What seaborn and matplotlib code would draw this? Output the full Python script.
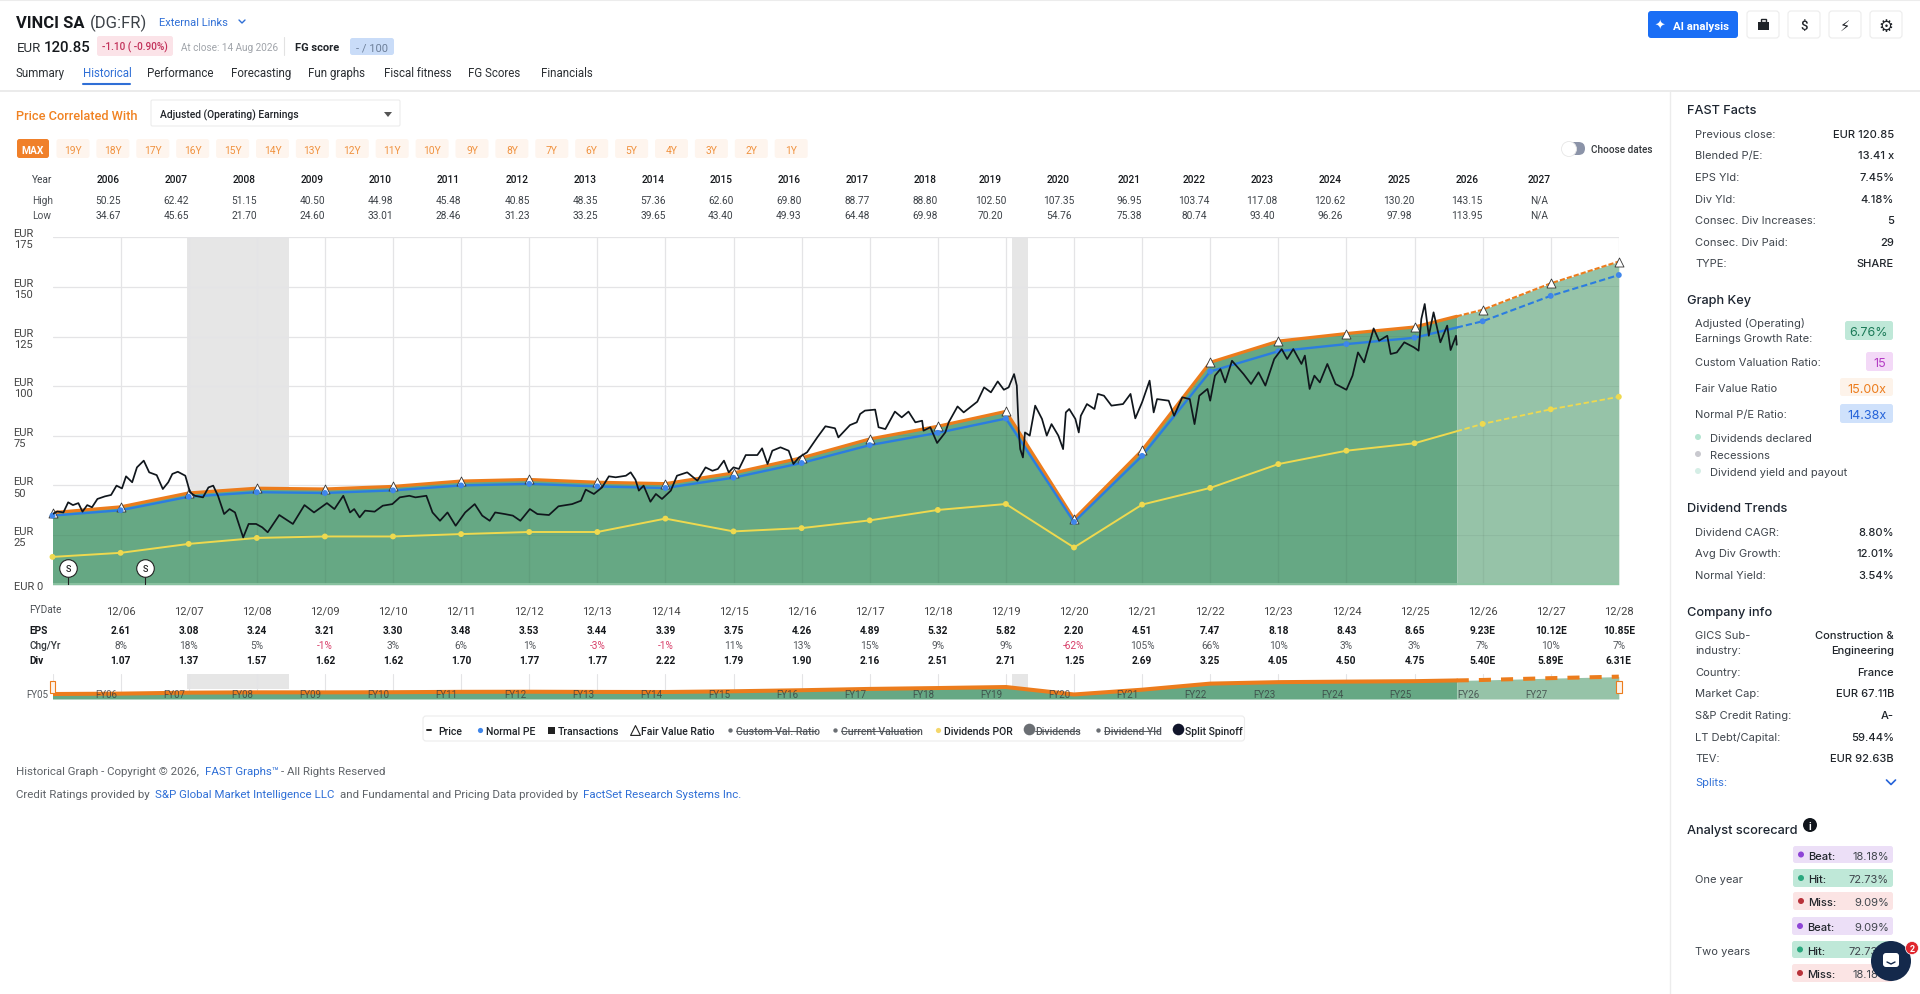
import numpy as np
import matplotlib
matplotlib.use("Agg")
import matplotlib.pyplot as plt
import seaborn as sns
from matplotlib.patches import FancyBboxPatch, Rectangle, Circle
from matplotlib.transforms import blended_transform_factory

W, H = 1920, 995

# fiscal year ends, x = 2005 means 12/05
fy = list(range(2005, 2029))
fair_value = [36.3, 39.2, 46.2, 48.6, 48.2, 49.5, 52.2, 53.0, 51.6, 50.9, 56.3, 63.9,
              73.4, 79.8, 87.3, 33.0, 67.7, 112.0, 122.7, 126.5, 129.8, 138.5, 151.8, 162.8]
normal_pe = [34.8, 37.5, 44.3, 46.6, 46.2, 47.5, 50.0, 50.8, 49.5, 48.7, 53.9, 61.3,
             70.3, 76.5, 83.7, 31.6, 64.9, 107.4, 117.6, 121.2, 124.4, 132.7, 145.5, 156.0]
div_por = [14.0, 16.05, 20.55, 23.55, 24.3, 24.3, 25.5, 26.55, 26.55, 33.3, 26.85, 28.5,
           32.4, 37.65, 40.65, 18.75, 40.35, 48.75, 60.75, 67.5, 71.25, 81.0, 88.35, 94.65]
last_close_x = 2025.62

price_year = [2005.00, 2005.07, 2005.16, 2005.23, 2005.30, 2005.38, 2005.44, 2005.51, 2005.58, 2005.66,
              2005.77, 2005.86, 2005.94, 2006.02, 2006.08, 2006.17, 2006.24, 2006.34, 2006.42, 2006.53,
              2006.62, 2006.70, 2006.76, 2006.84, 2006.95, 2007.02, 2007.09, 2007.21, 2007.29, 2007.36,
              2007.43, 2007.52, 2007.60, 2007.68, 2007.76, 2007.80, 2007.88, 2007.99, 2008.08, 2008.16,
              2008.33, 2008.53, 2008.70, 2008.84, 2009.03, 2009.14, 2009.27, 2009.37, 2009.43, 2009.51,
              2009.59, 2009.73, 2009.85, 2009.99, 2010.10, 2010.24, 2010.33, 2010.49, 2010.58, 2010.69,
              2010.80, 2010.92, 2011.06, 2011.20, 2011.31, 2011.42, 2011.50, 2011.64, 2011.76, 2011.87,
              2012.01, 2012.12, 2012.29, 2012.43, 2012.63, 2012.76, 2012.83, 2012.95, 2013.07, 2013.17,
              2013.27, 2013.42, 2013.49, 2013.56, 2013.61, 2013.68, 2013.78, 2013.86, 2013.95, 2014.08,
              2014.17, 2014.32, 2014.47, 2014.59, 2014.69, 2014.77, 2014.86, 2014.93, 2015.00, 2015.08,
              2015.18, 2015.35, 2015.42, 2015.50, 2015.57, 2015.69, 2015.81, 2015.88, 2015.96, 2016.08,
              2016.23, 2016.35, 2016.49, 2016.54, 2016.71, 2016.81, 2016.86, 2016.93, 2017.08, 2017.13,
              2017.23, 2017.37, 2017.47, 2017.57, 2017.67, 2017.77, 2017.79, 2017.89, 2017.99, 2018.11,
              2018.16, 2018.29, 2018.38, 2018.58, 2018.68, 2018.78, 2018.88, 2018.97, 2019.04, 2019.12,
              2019.16, 2019.19, 2019.21, 2019.25, 2019.28, 2019.35, 2019.43, 2019.53, 2019.60, 2019.67,
              2019.77, 2019.84, 2019.88, 2019.93, 2020.02, 2020.07, 2020.10, 2020.19, 2020.30, 2020.35,
              2020.44, 2020.55, 2020.72, 2020.83, 2020.90, 2021.00, 2021.11, 2021.17, 2021.22, 2021.39,
              2021.47, 2021.59, 2021.70, 2021.77, 2021.84, 2021.96, 2022.00, 2022.07, 2022.15, 2022.22,
              2022.32, 2022.49, 2022.60, 2022.71, 2022.81, 2022.94, 2023.05, 2023.13, 2023.22, 2023.34,
              2023.39, 2023.46, 2023.53, 2023.61, 2023.72, 2023.84, 2024.00, 2024.09, 2024.17, 2024.26,
              2024.40, 2024.48, 2024.60, 2024.65, 2024.74, 2024.85, 2024.99, 2025.06, 2025.10, 2025.15,
              2025.21, 2025.28, 2025.38, 2025.48, 2025.53, 2025.61, 2025.62]
price_value = [35.6, 36.9, 36.4, 41.5, 40.1, 41.1, 36.8, 40.1, 39.0, 43.2,
               44.5, 45.2, 49.9, 48.5, 54.6, 51.6, 59.1, 62.5, 56.6, 55.2,
               48.2, 51.6, 55.8, 56.9, 54.9, 46.5, 44.8, 44.0, 49.0, 49.9,
               44.8, 35.6, 38.1, 36.4, 28.0, 23.8, 30.6, 30.6, 28.9, 26.4,
               35.1, 30.6, 40.1, 36.4, 41.1, 38.1, 44.8, 36.4, 38.1, 33.9,
               37.3, 36.8, 39.8, 40.6, 44.0, 44.8, 44.0, 44.8, 36.4, 32.2,
               36.4, 29.7, 36.4, 40.6, 34.8, 32.2, 36.4, 35.6, 34.8, 32.2,
               38.1, 35.6, 35.1, 39.5, 40.6, 42.3, 47.9, 45.7, 49.0, 54.6,
               54.1, 54.9, 56.6, 52.9, 47.4, 49.9, 41.8, 45.7, 43.2, 47.4,
               54.9, 56.6, 52.4, 59.1, 57.4, 58.3, 62.5, 56.6, 59.1, 58.3,
               65.3, 65.3, 68.7, 60.8, 67.5, 69.2, 67.5, 60.8, 64.1, 66.7,
               74.2, 79.8, 78.8, 74.2, 80.4, 81.8, 86.0, 87.7, 88.2, 79.3,
               78.4, 87.2, 84.3, 87.2, 81.8, 82.6, 77.6, 79.3, 71.4, 76.7,
               81.8, 89.8, 86.8, 92.2, 99.4, 96.9, 102.4, 98.2, 99.4, 106.1,
               100.3, 76.7, 68.3, 64.1, 76.7, 75.1, 90.2, 83.5, 75.1, 80.9,
               75.1, 68.3, 86.8, 88.5, 83.5, 76.7, 85.1, 91.0, 88.5, 96.1,
               95.2, 90.2, 91.0, 96.1, 83.8, 91.9, 102.8, 86.8, 93.5, 92.7,
               85.1, 94.4, 93.5, 80.9, 95.2, 98.6, 92.7, 105.3, 108.6, 101.9,
               112.8, 106.1, 101.1, 107.0, 100.3, 113.7, 118.7, 113.7, 118.7, 111.2,
               115.4, 98.6, 105.3, 101.9, 111.2, 101.1, 98.2, 105.3, 117.0, 112.0,
               129.1, 122.9, 125.4, 116.2, 117.0, 122.1, 119.6, 117.9, 133.8, 141.4,
               125.4, 137.2, 122.1, 130.5, 118.2, 125.4, 120.85]

recessions = [(2006.98, 2008.48), (2019.09, 2019.32)]
split_year = [2005.23, 2006.36]
split_level = [8.4, 8.4]

# table above the chart
table_years = ["2006", "2007", "2008", "2009", "2010", "2011", "2012", "2013", "2014", "2015", "2016",
               "2017", "2018", "2019", "2020", "2021", "2022", "2023", "2024", "2025", "2026", "2027"]
table_x = [108, 176, 244.5, 312, 380, 448, 517, 585, 653, 721, 789, 857, 925, 990.6, 1058.6, 1129,
           1194, 1262, 1330, 1399, 1467, 1539]
table_high = ["50.25", "62.42", "51.15", "40.50", "44.98", "45.48", "40.85", "48.35", "57.36", "62.60", "69.80",
              "88.77", "88.80", "102.50", "107.35", "96.95", "103.74", "117.08", "120.62", "130.20", "143.15", "N/A"]
table_low = ["34.67", "45.65", "21.70", "24.60", "33.01", "28.46", "31.23", "33.25", "39.65", "43.40", "49.93",
             "64.48", "69.98", "70.20", "54.76", "75.38", "80.74", "93.40", "96.26", "97.98", "113.95", "N/A"]

# table below the chart
eps = ["2.61", "3.08", "3.24", "3.21", "3.30", "3.48", "3.53", "3.44", "3.39", "3.75", "4.26", "4.89",
       "5.32", "5.82", "2.20", "4.51", "7.47", "8.18", "8.43", "8.65", "9.23E", "10.12E", "10.85E"]
chg = ["8%", "18%", "5%", "-1%", "3%", "6%", "1%", "-3%", "-1%", "11%", "13%", "15%",
       "9%", "9%", "-62%", "105%", "66%", "10%", "3%", "3%", "7%", "10%", "7%"]
div = ["1.07", "1.37", "1.57", "1.62", "1.62", "1.70", "1.77", "1.77", "2.22", "1.79", "1.90", "2.16",
       "2.51", "2.71", "1.25", "2.69", "3.25", "4.05", "4.50", "4.75", "5.40E", "5.89E", "6.31E"]

pills = ["19Y", "18Y", "17Y", "16Y", "15Y", "14Y", "13Y", "12Y", "11Y", "10Y",
         "9Y", "8Y", "7Y", "6Y", "5Y", "4Y", "3Y", "2Y", "1Y"]
tabs = [("Summary", 16), ("Historical", 83), ("Performance", 147), ("Forecasting", 231),
        ("Fun graphs", 308), ("Fiscal fitness", 384), ("FG Scores", 468), ("Financials", 541)]

fast_facts = [("Previous close:", "EUR 120.85"), ("Blended P/E:", "13.41 x"), ("EPS Yld:", "7.45%"),
              ("Div Yld:", "4.18%"), ("Consec. Div Increases:", "5"), ("Consec. Div Paid:", "29"),
              ("TYPE:", "SHARE")]
div_trends = [("Dividend CAGR:", "8.80%"), ("Avg Div Growth:", "12.01%"), ("Normal Yield:", "3.54%")]
company = [("Country:", "France"), ("Market Cap:", "EUR 67.11B"), ("S&P Credit Rating:", "A-"),
           ("LT Debt/Capital:", "59.44%"), ("TEV:", "EUR 92.63B")]

C_ORANGE = "#ec7c1c"
C_BLUE = "#2b7de0"
C_YELLOW = "#eed94f"
C_FILL = "#66a884"
C_FILL_FCST = "#96c3a8"
C_DARK = "#1f2328"
C_GREY = "#5f6368"
C_LINK = "#2f6fd6"
C_RED = "#d8406a"
C_GRID = "#e4e4e6"

sns.set_theme(style="whitegrid")
plt.rcParams["font.family"] = ["Roboto", "DejaVu Sans"]

fig = plt.figure(figsize=(W / 100, H / 100), dpi=100, facecolor="white")


def px_axes(left, top, right, bottom, **kw):
    return fig.add_axes([left / W, 1 - bottom / H, (right - left) / W, (bottom - top) / H], **kw)


X0, X1, Y_TOP, Y_BOT = 52.5, 1618.8, 238.3, 585.7

# page layer in pixel coordinates
ui = px_axes(0, 0, W, H)
ui.set_xlim(0, W)
ui.set_ylim(H, 0)
ui.axis("off")
ui.set_zorder(0)

ax = px_axes(X0, Y_TOP, X1, Y_BOT)
ax.set_zorder(2)
ax.patch.set_alpha(0)

nav = px_axes(X0, 675, X1, 700)
nav.set_zorder(2)
nav.patch.set_alpha(0)

over = px_axes(0, 0, W, H)
over.set_xlim(0, W)
over.set_ylim(H, 0)
over.axis("off")
over.patch.set_alpha(0)
over.set_zorder(5)

# split history / forecast at the last close
x_hist = [y for y in fy if y <= last_close_x] + [last_close_x]
x_fcst = [last_close_x] + [y for y in fy if y > last_close_x]


def part(values, xs):
    return np.interp(xs, fy, values)


def draw_line(axes, xs, ys, color, lw, **kw):
    sns.lineplot(x=xs, y=ys, ax=axes, color=color, linewidth=lw, sort=False,
                 estimator=None, errorbar=None, legend=False, **kw)


# main chart
ax.set_xlim(2005, 2028)
ax.set_ylim(0, 175)
for a, b in recessions:
    ax.axvspan(a, b, color="#e6e6e6", lw=0, zorder=0.5)
ax.fill_between(x_hist, 0, part(fair_value, x_hist), color=C_FILL, lw=0, zorder=1)
ax.fill_between(x_fcst, 0, part(fair_value, x_fcst), color=C_FILL_FCST, lw=0, zorder=1)
# faint grid showing through the green area
ax.vlines(fy[1:-1], 0, part(fair_value, fy[1:-1]), color="black", alpha=0.05, lw=0.9, zorder=1.5)
for level in [25, 50, 75, 100, 125, 150]:
    xs_in = np.linspace(2005, 2028, 920)
    under = part(fair_value, xs_in) >= level
    ax.fill_between(xs_in, level - 0.25, level + 0.25, where=under, color="black", alpha=0.05, lw=0, zorder=1.5)
ax.plot([2005, 2028], [0.3, 0.3], color="#8fc7a5", lw=1.2, zorder=1.6)

draw_line(ax, x_hist, part(fair_value, x_hist), C_ORANGE, 2.3, zorder=3)
draw_line(ax, x_fcst, part(fair_value, x_fcst), C_ORANGE, 1.5, linestyle=(0, (2.5, 1)), zorder=3)
draw_line(ax, x_hist, part(normal_pe, x_hist), C_BLUE, 1.7, zorder=3.2)
draw_line(ax, x_fcst, part(normal_pe, x_fcst), C_BLUE, 1.5, linestyle=(0, (3, 1.5)), zorder=3.2)
draw_line(ax, x_hist, part(div_por, x_hist), C_YELLOW, 1.4, zorder=3)
draw_line(ax, x_fcst, part(div_por, x_fcst), C_YELLOW, 1.3, linestyle=(0, (3, 1.5)), zorder=3)

sns.scatterplot(x=fy, y=div_por, ax=ax, color=C_YELLOW, s=18, edgecolor="none", zorder=3.5, clip_on=False, legend=False)
sns.scatterplot(x=fy, y=fair_value, ax=ax, color="white", marker="^", s=42, edgecolor="#333333", linewidth=0.6,
                zorder=3.5, clip_on=False, legend=False)
sns.scatterplot(x=fy, y=normal_pe, ax=ax, color="#3f86ea", s=18, edgecolor="none", zorder=3.6, clip_on=False, legend=False)

draw_line(ax, price_year, price_value, "#10161c", 1.25, zorder=4)

ax.vlines(split_year, 0, split_level, color="#222222", lw=0.8, zorder=4.4)
sns.scatterplot(x=split_year, y=split_level, ax=ax, color="white", s=160, edgecolor="#222222", linewidth=0.8,
                zorder=4.5, clip_on=False, legend=False)
for sx, sy in zip(split_year, split_level):
    ax.text(sx, sy, "S", ha="center", va="center", fontsize=6.5, color="#222222", zorder=4.6, fontweight="medium")

ax.set_xticks(fy[1:])
ax.set_xticklabels([f"12/{str(y)[2:]}" for y in fy[1:]], fontsize=8, color="#444444")
ax.set_yticks([0, 25, 50, 75, 100, 125, 150, 175])
ax.set_yticklabels(["EUR 0", "EUR\n25", "EUR\n50", "EUR\n75", "EUR\n100", "EUR\n125", "EUR\n150", "EUR\n175"],
                   fontsize=8, color="#444444", ha="left", linespacing=1.15)
ax.tick_params(axis="x", length=3, width=0.8, color=C_GRID, pad=12)
ax.tick_params(axis="y", length=0, pad=28)
ax.grid(True, color=C_GRID, linewidth=0.9)
ax.set_axisbelow(True)
ax.set_xlabel("")
ax.set_ylabel("")
sns.despine(ax=ax, left=True, bottom=True)

# navigator under the table
nav.set_xlim(2005, 2028)
nav.set_ylim(0, 182)
for a, b in recessions:
    nav.axvspan(a, b, ymin=0.4, color="#e6e6e6", lw=0, zorder=0.5)
nav.fill_between(x_hist, 0, part(fair_value, x_hist), color=C_FILL, lw=0, zorder=1)
nav.fill_between(x_fcst, 0, part(fair_value, x_fcst), color=C_FILL_FCST, lw=0, zorder=1)
draw_line(nav, x_hist, part(fair_value, x_hist), C_ORANGE, 2.9, zorder=3)
draw_line(nav, x_fcst, part(fair_value, x_fcst), C_ORANGE, 2.9, linestyle=(0, (3, 2.5)), zorder=3)
nav.set_xticks(fy)
nav.set_xticklabels([])
nav.set_yticks([])
nav.tick_params(axis="x", length=3, width=0.8, color="#555555", pad=0)
nav.grid(True, axis="x", color=C_GRID, linewidth=0.8)
nav.set_axisbelow(True)
sns.despine(ax=nav, left=True, bottom=True)

x_data_y_px = blended_transform_factory(ax.transData, ui.transData)


def base_y(y, size):
    # y given as the optical middle of the text, in pixels
    return y + size * 1.389 * 0.36


def txt(x, y, s, size=8, color=C_DARK, ha="left", weight="normal", layer=None, family=None, **kw):
    target = layer or ui
    if family:
        kw["family"] = family
    return target.text(x, base_y(y, size), s, fontsize=size, color=color, ha=ha, va="baseline", fontweight=weight, **kw)


def badge(x0, y0, x1, y1, fc, ec="none", r=2.5, layer=None, z=1, lw=0.8):
    target = layer or ui
    target.add_patch(FancyBboxPatch((x0 + r, y0 + r), x1 - x0 - 2 * r, y1 - y0 - 2 * r,
                                    boxstyle=f"round,pad={r},rounding_size={r}", fc=fc, ec=ec, lw=lw, zorder=z))


# header
ui.plot([0, W], [0.5, 0.5], color="#ececec", lw=1.5)
ui.plot([0, W], [92, 92], color="#e8e8e8", lw=1.2)
ui.plot([1670, 1670], [92, H], color="#ececec", lw=1)
txt(16.5, 22, "VINCI SA", 11.9, "#15181c", weight="bold")
txt(90, 22, "(DG:FR)", 12, "#3d4248")
txt(159, 22, "External Links", 8, C_LINK)
ui.plot([239, 242, 245], [21, 24, 21], color=C_LINK, lw=1)
txt(16.5, 47, "EUR", 9.5, "#2b2f33")
txt(44, 47, "120.85", 10.8, "#15181c", weight="medium")
badge(97, 37, 173, 57, "#fbe3e8")
txt(135, 47, "-1.10 ( -0.90%)", 7.2, "#c2315a", ha="center", weight="medium")
txt(181, 47, "At close: 14 Aug 2026", 7.2, "#a0a4aa")
ui.plot([284, 284], [38, 56], color="#e2e2e2", lw=0.8)
txt(295, 47, "FG score", 8, C_DARK, weight="bold")
badge(350, 39, 394, 56, "#c9dcf8")
txt(372, 47.5, "- / 100", 8, "#6d7f99", ha="center")
for name, x in tabs:
    txt(x, 73, name, 8.3, C_LINK if name == "Historical" else "#2b2f33")
ui.plot([83, 130], [84.5, 84.5], color=C_LINK, lw=1.5)

badge(1648, 12, 1738, 39, "#1a6ef5", r=3)
txt(1660, 25.5, "✦", 9, "white", ha="center", family=["DejaVu Sans"])
txt(1701, 25.5, "AI analysis", 8.2, "white", ha="center", weight="bold")
for x0 in [1747, 1788, 1829, 1870]:
    badge(x0, 12, x0 + 32, 39, "white", ec="#ececec", r=3)
ui.add_patch(Rectangle((1757.5, 23), 11, 8, fc="#1f2328", ec="none", zorder=2))
ui.add_patch(Rectangle((1760.5, 20), 5, 3, fc="none", ec="#1f2328", lw=1, zorder=2))
txt(1804, 25.5, "$", 9.5, "#1f2328", ha="center", weight="medium")
txt(1845, 25.5, "⚡", 10.5, "#1f2328", ha="center", family=["DejaVu Sans"])
txt(1886, 25.5, "⚙", 12, "#1f2328", ha="center", weight="bold", family=["DejaVu Sans"])

# selector row
txt(16, 115, "Price Correlated With", 9.2, "#f08222", weight="medium")
badge(151, 101, 400, 127, "white", ec="#ececec", r=1.5)
txt(160, 115, "Adjusted (Operating) Earnings", 7.4, C_DARK, weight="medium")
ui.fill([384, 392, 388], [113, 113, 118], color="#555555", lw=0, zorder=2)
badge(17, 140, 49, 159, "#f0802a", r=2.5)
txt(33, 150, "MAX", 7.4, "white", ha="center", weight="bold")
for i, label in enumerate(pills):
    cx = 73 + i * 39.9
    badge(cx - 16.5, 140, cx + 16.5, 159, "#fef5ee", r=2.5)
    txt(cx, 150, label, 7.4, "#f0923f", ha="center")
badge(1565, 143, 1585, 156, "#8b93a8", r=6.5)
ui.add_patch(Circle((1569, 150), 7.5, fc="white", ec="#e6e6e6", lw=0.6, zorder=2))
txt(1591, 149, "Choose dates", 7.2, "#33373b", weight="medium")

# table above the chart
txt(32, 179, "Year", 7.3, "#3d4248")
txt(32, 200, "High", 7.3, "#4d5156")
txt(32, 215, "Low", 7.3, "#4d5156")
for x, yr, hi, lo in zip(table_x, table_years, table_high, table_low):
    txt(x, 179, yr, 7.3, "#15181c", ha="center", weight="medium")
    txt(x, 200, hi, 7.3, "#3d4248", ha="center")
    txt(x, 215, lo, 7.3, "#3d4248", ha="center")

# table below the chart
txt(29, 609, "FYDate", 7.3, "#4d5156")
txt(29, 630, "EPS", 7.3, "#15181c", weight="bold")
txt(29, 645, "Chg/Yr", 7.3, "#33373b", weight="medium")
txt(29, 660, "Div", 7.3, "#15181c", weight="bold")
for y, e, c, d in zip(fy[1:], eps, chg, div):
    ui.text(y, base_y(630, 7.3), e, transform=x_data_y_px, ha="center", va="baseline", fontsize=7.3, color="#15181c", fontweight="bold")
    ui.text(y, base_y(645, 7.3), c, transform=x_data_y_px, ha="center", va="baseline", fontsize=7.3,
            color=C_RED if c.startswith("-") else "#55595e")
    ui.text(y, base_y(660, 7.3), d, transform=x_data_y_px, ha="center", va="baseline", fontsize=7.3, color="#15181c", fontweight="bold")

# navigator labels and handles
for y in fy[:-1]:
    if y == 2005:
        txt(37, 694, "FY05", 7, "#55595e", ha="center", layer=over)
    else:
        over.text(y - 0.21, base_y(694, 7), f"FY{str(y)[2:]}", transform=x_data_y_px, ha="center", va="baseline",
                  fontsize=7, color="#33373b", alpha=0.75)
for x0 in [49.5, 1616]:
    over.add_patch(Rectangle((x0, 682), 5.5, 12, fc="#fdf3ea", ec=C_ORANGE, lw=0.8, zorder=3))

# legend box
badge(423, 717, 1244.5, 742, "white", ec="#ececec", r=3)
LEG_Y = 731
ui.plot([427, 431], [LEG_Y, LEG_Y], color="#222222", lw=1.4, zorder=2)
ui.scatter([480], [LEG_Y], s=14, color="#3f86ea", lw=0, zorder=2)
ui.add_patch(Rectangle((548, LEG_Y - 3.5), 7, 7, fc="#222222", ec="none", zorder=2))
ui.scatter([635], [LEG_Y - 0.5], s=50, marker="^", fc="white", ec="#222222", lw=0.8, zorder=2)
ui.scatter([730, 835, 1098], [LEG_Y] * 3, s=10, color="#6b6f74", lw=0, zorder=2)
ui.scatter([938], [LEG_Y], s=14, color="#f4d76b", lw=0, zorder=2)
ui.scatter([1028.5], [LEG_Y - 1], s=70, color="#6b6f74", lw=0, zorder=2)
ui.scatter([1178], [LEG_Y - 1], s=70, color="#11152b", lw=0, zorder=2)
for x, s in [(438, "Price"), (486, "Normal PE"), (558, "Transactions"), (641, "Fair Value Ratio"),
             (944, "Dividends POR"), (1185, "Split Spinoff")]:
    txt(x, LEG_Y, s, 7.6, "#1f2328", weight="medium")
for x, xe, s in [(736, 816, "Custom Val. Ratio"), (841, 919, "Current Valuation"),
                 (1035, 1079, "Dividends"), (1104, 1159, "Dividend Yld")]:
    txt(x, LEG_Y, s, 7.6, "#55595e", weight="medium")
    ui.plot([x, xe], [LEG_Y + 0.5, LEG_Y + 0.5], color="#55595e", lw=0.7, zorder=2)

# footer
txt(16, 771, "Historical Graph - Copyright © 2026,", 8.25, C_GREY)
txt(204.6, 771, "FAST Graphs™", 8.25, C_LINK)
txt(281, 771, "- All Rights Reserved", 8.25, C_GREY)
txt(16, 794, "Credit Ratings provided by", 8.25, C_GREY)
txt(154.7, 794, "S&P Global Market Intelligence LLC", 8.25, C_LINK)
txt(340, 794, "and Fundamental and Pricing Data provided by", 8.25, C_GREY)
txt(583, 794, "FactSet Research Systems Inc.", 8.25, C_LINK)

# right panel
P = "Inter"
PL, PR = 1695, 1894


def heading(y, s):
    txt(1687, y, s, 9.2, "#1d2530", weight="medium", family=[P, "DejaVu Sans"])


def row(y, label, value=None):
    txt(PL, y, label, 8, "#3f454c", family=[P, "DejaVu Sans"])
    if value:
        txt(PR, y, value, 8, "#20252b", ha="right", weight="medium", family=[P, "DejaVu Sans"])


heading(109, "FAST Facts")
for y, (k, v) in zip([133.7, 155, 177, 198.7, 220, 241.7, 263], fast_facts):
    row(y, k, v)

heading(299, "Graph Key")
row(323, "Adjusted (Operating)")
row(338, "Earnings Growth Rate:")
badge(1845, 322, 1893, 341, "#bfe8d8")
txt(1869, 331.5, "6.76%", 9, "#1b7a58", ha="center", family=[P, "DejaVu Sans"])
row(362, "Custom Valuation Ratio:")
badge(1866, 353, 1893, 372, "#f3d9f7")
txt(1879.5, 362.5, "15", 9, "#b43bc4", ha="center", family=[P, "DejaVu Sans"])
row(388, "Fair Value Ratio")
badge(1840, 379, 1893, 397, "#fdf3ea")
txt(1866.5, 388.5, "15.00x", 9, C_ORANGE, ha="center", family=[P, "DejaVu Sans"])
row(414, "Normal P/E Ratio:")
badge(1840, 405, 1893, 424, "#cfe1fb")
txt(1866.5, 414.5, "14.38x", 9, "#2563d9", ha="center", family=[P, "DejaVu Sans"])
for y, c, s in [(438, "#b5e5d2", "Dividends declared"), (455, "#c9c9cf", "Recessions"),
                (472, "#d5eee6", "Dividend yield and payout")]:
    ui.add_patch(Circle((1698, y), 3, fc=c, ec="none", zorder=2))
    txt(1710, y, s, 8, "#3f454c", family=[P, "DejaVu Sans"])

heading(507, "Dividend Trends")
for y, (k, v) in zip([532, 553, 575], div_trends):
    row(y, k, v)

heading(611, "Company info")
row(635, "GICS Sub-", "Construction &")
row(650, "industry:", "Engineering")
for y, (k, v) in zip([672, 693, 715, 737, 758], company):
    row(y, k, v)
txt(PL, 782, "Splits:", 8, C_LINK, family=[P, "DejaVu Sans"])
ui.plot([1886.5, 1891, 1895.5], [781, 785.5, 781], color="#2563d9", lw=1.2)

heading(829, "Analyst scorecard")
ui.add_patch(Circle((1810, 826), 7, fc="#10151c", ec="none", zorder=2))
txt(1810, 826, "i", 7.5, "white", ha="center", weight="bold", zorder=3)
row(879, "One year")
row(951, "Two years")
score_rows = [
    (1793, 847, 864, "#ecdff7", "#8e44d6", "Beat:", "18.18%"),
    (1793, 870, 888, "#bfe8d8", "#2aa87e", "Hit:", "72.73%"),
    (1793, 893, 911, "#fbe4e4", "#b8323a", "Miss:", "9.09%"),
    (1792, 918, 936, "#ecdff7", "#8e44d6", "Beat:", "9.09%"),
    (1792, 942, 959, "#bfe8d8", "#2aa87e", "Hit:", "72.73%"),
    (1792, 965, 983, "#fbe4e4", "#b8323a", "Miss:", "18.18%"),
]
for x0, y0, y1, bg, dot, lab, val in score_rows:
    badge(x0, y0, 1893, y1, bg)
    ym = (y0 + y1) / 2
    ui.add_patch(Circle((x0 + 8, ym), 3, fc=dot, ec="none", zorder=2))
    txt(x0 + 15, ym, lab, 8, "#20252b", weight="medium", family=[P, "DejaVu Sans"])
    txt(1889, ym, val, 8, "#3f454c", ha="right", family=[P, "DejaVu Sans"])

# chat bubble
over.add_patch(Circle((1891, 962), 20, fc="#14294b", ec="none", zorder=6))
over.add_patch(FancyBboxPatch((1884, 955), 14, 12, boxstyle="round,pad=1,rounding_size=3", fc="white", ec="none", zorder=7))
over.plot([1887, 1891, 1895], [963, 965, 963], color="#14294b", lw=1, zorder=8)
over.add_patch(Circle((1912, 949), 6.5, fc="#e0262e", ec="white", lw=0.5, zorder=7))
txt(1912, 949, "2", 6.5, "white", ha="center", weight="bold", layer=over, zorder=8)

fig.savefig("out.png", dpi=100)
